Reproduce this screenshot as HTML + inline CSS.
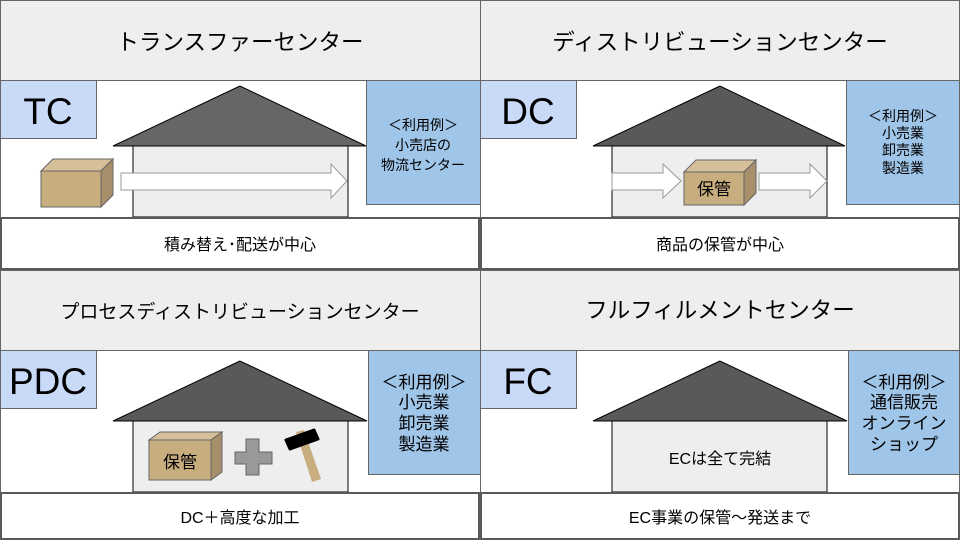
<!DOCTYPE html>
<html><head><meta charset="utf-8"><style>
html,body{margin:0;padding:0;background:#fff;}
svg{display:block;}
text{font-family:"Liberation Sans","Noto Sans CJK JP",sans-serif;fill:#000;}
</style></head><body>
<svg width="960" height="540" viewBox="0 0 960 540" xmlns="http://www.w3.org/2000/svg">
<rect x="0.5" y="0.5" width="480" height="80" fill="#eeeeee" stroke="#666" />
<rect x="480.5" y="0.5" width="479" height="80" fill="#eeeeee" stroke="#666" />
<rect x="0.5" y="270.5" width="480" height="80" fill="#eeeeee" stroke="#666" />
<rect x="480.5" y="270.5" width="479" height="80" fill="#eeeeee" stroke="#666" />
<text x="240" y="50" font-size="22.5" text-anchor="middle">トランスファーセンター</text>
<text x="720" y="50" font-size="22.5" text-anchor="middle">ディストリビューションセンター</text>
<text x="240" y="318" font-size="19" text-anchor="middle">プロセスディストリビューションセンター</text>
<text x="720" y="318" font-size="22.5" text-anchor="middle">フルフィルメントセンター</text>
<rect x="0.5" y="80.5" width="480" height="137" fill="#fff" stroke="#666"/>
<rect x="480.5" y="80.5" width="479" height="137" fill="#fff" stroke="#666"/>
<rect x="0.5" y="350.5" width="480" height="142" fill="#fff" stroke="#666"/>
<rect x="480.5" y="350.5" width="479" height="142" fill="#fff" stroke="#666"/>
<rect x="0.5" y="80.5" width="96" height="58" fill="#c9daf8" stroke="#666"/>
<text x="48" y="124" font-size="37" text-anchor="middle">TC</text>
<rect x="480.5" y="80.5" width="96" height="58" fill="#c9daf8" stroke="#666"/>
<text x="528" y="124" font-size="37" text-anchor="middle">DC</text>
<rect x="0.5" y="350.5" width="96" height="58" fill="#c9daf8" stroke="#666"/>
<text x="48" y="394" font-size="37" text-anchor="middle">PDC</text>
<rect x="480.5" y="350.5" width="96" height="58" fill="#c9daf8" stroke="#666"/>
<text x="528" y="394" font-size="37" text-anchor="middle">FC</text>
<rect x="366.5" y="80.5" width="114" height="124" fill="#9fc5e8" stroke="#666"/>
<text x="423" y="130" font-size="14" text-anchor="middle">＜利用例＞</text>
<text x="423" y="150" font-size="14" text-anchor="middle">小売店の</text>
<text x="423" y="170" font-size="14" text-anchor="middle">物流センター</text>
<rect x="846.5" y="80.5" width="113" height="124" fill="#9fc5e8" stroke="#666"/>
<text x="903" y="121" font-size="14" text-anchor="middle">＜利用例＞</text>
<text x="903" y="138" font-size="14" text-anchor="middle">小売業</text>
<text x="903" y="155" font-size="14" text-anchor="middle">卸売業</text>
<text x="903" y="173" font-size="14" text-anchor="middle">製造業</text>
<rect x="368.5" y="350.5" width="112" height="124" fill="#9fc5e8" stroke="#666"/>
<text x="424" y="388" font-size="17" text-anchor="middle">＜利用例＞</text>
<text x="424" y="408" font-size="17" text-anchor="middle">小売業</text>
<text x="424" y="429" font-size="17" text-anchor="middle">卸売業</text>
<text x="424" y="450" font-size="17" text-anchor="middle">製造業</text>
<rect x="848.5" y="350.5" width="111" height="124" fill="#9fc5e8" stroke="#666"/>
<text x="904" y="388" font-size="17" text-anchor="middle">＜利用例＞</text>
<text x="904" y="408" font-size="17" text-anchor="middle">通信販売</text>
<text x="904" y="429" font-size="17" text-anchor="middle">オンライン</text>
<text x="904" y="450" font-size="17" text-anchor="middle">ショップ</text>
<g stroke="#000" stroke-width="1">
<rect x="133" y="146" width="215" height="71" fill="#eeeeee"/>
<polygon points="240,86 113,146 366,146" fill="#666666"/>
<rect x="612" y="146" width="215" height="71" fill="#eeeeee"/>
<polygon points="720,86 593,146 845,146" fill="#595959"/>
<rect x="133" y="421" width="215" height="71" fill="#eeeeee"/>
<polygon points="240,361 113,421 367,421" fill="#595959"/>
<rect x="612" y="421" width="215" height="71" fill="#eeeeee"/>
<polygon points="720,361 593,421 847,421" fill="#595959"/>
</g>
<g stroke="#666" stroke-width="1">
<polygon points="41,171 101,171 113,159 53,159" fill="#d5c09a"/>
<polygon points="101,171 113,159 113,195 101,207" fill="#a68f6a"/>
<rect x="41" y="171" width="60" height="36" fill="#c8ad7f"/>
</g>
<polygon points="121,173 331,173 331,164 347,181 331,198 331,190 121,190" fill="#fff" stroke="#999"/>
<polygon points="612,173 663,173 663,164 681,181 663,198 663,190 612,190" fill="#fff" stroke="#999"/>
<polygon points="759,173 810,173 810,164 827,181 810,198 810,190 759,190" fill="#fff" stroke="#999"/>
<g stroke="#666" stroke-width="1">
<polygon points="684,172 744,172 756,160 696,160" fill="#d5c09a"/>
<polygon points="744,172 756,160 756,193 744,205" fill="#a68f6a"/>
<rect x="684" y="172" width="60" height="33" fill="#c8ad7f"/>
</g>
<text x="714" y="195" font-size="17" text-anchor="middle">保管</text>
<g stroke="#666" stroke-width="1">
<polygon points="149,440 211,440 222,432 160,432" fill="#d5c09a"/>
<polygon points="211,440 222,432 222,472 211,480" fill="#a68f6a"/>
<rect x="149" y="440" width="62" height="40" fill="#c8ad7f"/>
<polygon points="246,439 259,439 259,452 272,452 272,464 259,464 259,475 246,475 246,464 235,464 235,452 246,452" fill="#999"/>
</g>
<text x="180" y="468" font-size="17" text-anchor="middle">保管</text>
<polygon points="296,432 304,430 321,479 312,482" fill="#c8ad7f"/>
<polygon points="286,440 314,430 318,439 290,449" fill="#000" stroke="#000" stroke-linejoin="round" stroke-width="3"/>
<text x="720" y="464" font-size="16" text-anchor="middle">ECは全て完結</text>
<g fill="#fff" stroke="#595959" stroke-width="2">
<rect x="1" y="218" width="478" height="51"/>
<rect x="481" y="218" width="478" height="51"/>
<rect x="1" y="493" width="478" height="46"/>
<rect x="481" y="493" width="478" height="46"/>
</g>
<text x="240" y="250" font-size="16" text-anchor="middle">積み替え･配送が中心</text>
<text x="720" y="250" font-size="16" text-anchor="middle">商品の保管が中心</text>
<text x="240" y="523" font-size="16" text-anchor="middle">DC＋高度な加工</text>
<text x="720" y="523" font-size="16" text-anchor="middle">EC事業の保管～発送まで</text>
</svg>
</body></html>
